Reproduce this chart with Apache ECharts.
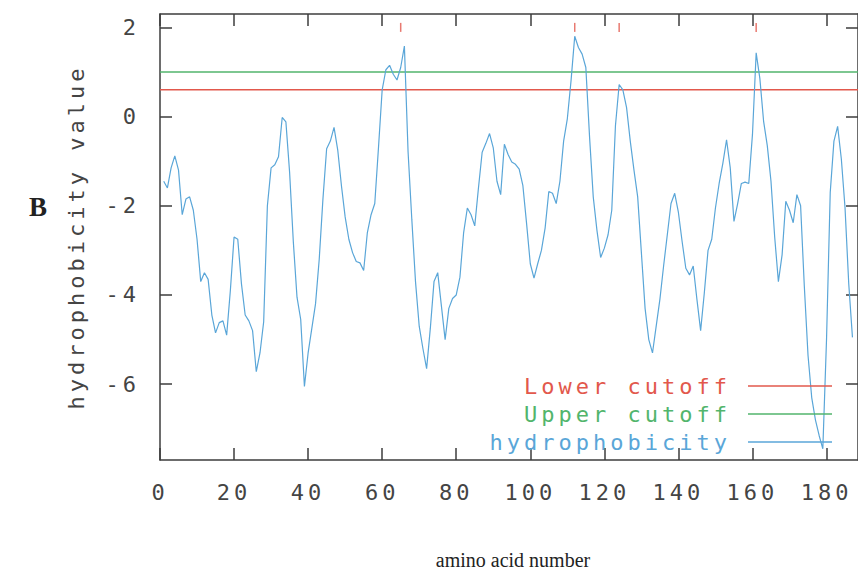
<!DOCTYPE html>
<html><head><meta charset="utf-8">
<script src="https://cdn.jsdelivr.net/npm/echarts@6/dist/echarts.min.js"></script>
<style>
html,body{margin:0;padding:0;background:#fff}
#c{width:858px;height:575px}
#c svg text[style*="Mono"], #c svg text[font-family*="Mono"]{letter-spacing:4px}
</style></head><body><div id="c"></div>
<script>
// ---- data ----
const startResidue = 1;
const hydro = [
 -1.45,-1.60,-1.15,-0.88,-1.20,-2.20,-1.85,-1.80,-2.10,-2.75,
 -3.70,-3.50,-3.65,-4.45,-4.85,-4.62,-4.58,-4.90,-3.90,-2.70,
 -2.75,-3.75,-4.45,-4.58,-4.80,-5.72,-5.30,-4.60,-2.00,-1.15,
 -1.08,-0.90,-0.02,-0.12,-1.25,-2.80,-4.05,-4.55,-6.05,-5.30,
 -4.75,-4.20,-3.20,-1.85,-0.72,-0.55,-0.24,-0.75,-1.55,-2.25,
 -2.75,-3.05,-3.25,-3.28,-3.45,-2.60,-2.20,-1.95,-0.70,0.60,
 1.05,1.15,0.95,0.82,1.10,1.58,-0.80,-2.30,-3.70,-4.70,
 -5.20,-5.65,-4.75,-3.70,-3.50,-4.25,-5.00,-4.30,-4.08,-4.00,
 -3.60,-2.60,-2.05,-2.20,-2.45,-1.60,-0.80,-0.60,-0.38,-0.70,
 -1.45,-1.75,-0.62,-0.85,-1.02,-1.07,-1.18,-1.55,-2.40,-3.30,
 -3.62,-3.30,-3.00,-2.50,-1.68,-1.72,-1.95,-1.45,-0.55,-0.05,
 0.80,1.80,1.55,1.40,1.10,-0.45,-1.80,-2.55,-3.16,-2.95,
 -2.65,-2.10,-0.20,0.72,0.60,0.20,-0.55,-1.20,-1.80,-3.05,
 -4.30,-5.00,-5.30,-4.70,-4.10,-3.35,-2.65,-1.95,-1.72,-2.15,
 -2.80,-3.40,-3.55,-3.35,-4.10,-4.80,-3.95,-3.00,-2.75,-2.05,
 -1.50,-1.05,-0.52,-1.15,-2.35,-1.95,-1.50,-1.47,-1.50,-0.40,
 1.43,0.85,-0.10,-0.65,-1.45,-2.70,-3.70,-3.10,-1.90,-2.10,
 -2.38,-1.75,-2.00,-3.80,-5.35,-6.30,-6.80,-7.15,-7.45,-5.00,
 -1.70,-0.55,-0.22,-0.95,-2.05,-3.75,-4.95
];
const lowerCutoff = 0.6;
const upperCutoff = 1.0;
const markedResidues = [65, 112, 124, 161];
const xTicks = [0,20,40,60,80,100,120,140,160,180];
const yTicks = [-6,-4,-2,0,2];
const xMin = 0, xMax = 188.5;
const yMin = -7.7, yMax = 2.3;

// ---- styles ----
const MONO = "'DejaVu Sans Mono', monospace";
const SERIF = "'Liberation Serif', 'DejaVu Serif', serif";
const C_RED = '#e2584c', C_GREEN = '#52b56c', C_BLUE = '#5aa6d8';
const AXIS = '#3c3c3c', TXT = '#444444';

const chart = echarts.init(document.getElementById('c'), null, {renderer: 'svg'});

function frameAxis(extra) {
  return Object.assign({
    axisLine: {show: true, onZero: false, lineStyle: {color: AXIS, width: 1.5}},
    axisTick: {show: true, inside: true, length: 12, lineStyle: {color: AXIS, width: 1.5}},
    splitLine: {show: false},
    axisLabel: {show: false}
  }, extra);
}

const option = {
  animation: false,
  backgroundColor: '#fff',
  grid: {left: 160, top: 14, right: -4, bottom: 107, containLabel: false},
  xAxis: [
    frameAxis({
      type: 'value', min: xMin, max: xMax, position: 'bottom',
      axisTick: {show: true, inside: true, length: 12, customValues: xTicks, lineStyle: {color: AXIS, width: 1.5}},
      axisLabel: {
        show: true, customValues: xTicks, margin: 21,
        fontFamily: MONO, fontSize: 22,
        color: function (v) { return (v === 0) ? '#b0b0b0' : (v === 60 ? '#9a9a9a' : TXT); }
      },
      name: 'amino acid number', nameLocation: 'middle', nameGap: 90,
      nameTextStyle: {fontFamily: SERIF, fontSize: 20, color: '#222', padding: [0, 0, 0, 8]}
    }),
    frameAxis({
      type: 'value', min: xMin, max: xMax, position: 'top',
      axisTick: {show: true, inside: true, length: 12, customValues: xTicks, lineStyle: {color: AXIS, width: 1.5}}
    })
  ],
  yAxis: [
    frameAxis({
      type: 'value', min: yMin, max: yMax, position: 'left',
      axisTick: {show: true, inside: true, length: 12, customValues: yTicks, lineStyle: {color: AXIS, width: 1.5}},
      axisLabel: {
        show: true, customValues: yTicks, margin: 20,
        fontFamily: MONO, fontSize: 22,
        color: function (v) { return (v === 2) ? '#a0a0a0' : TXT; }
      },
      name: 'hydrophobicity value', nameLocation: 'middle', nameGap: 73,
      nameTextStyle: {fontFamily: MONO, fontSize: 22, color: TXT}
    }),
    frameAxis({
      type: 'value', min: yMin, max: yMax, position: 'right',
      axisTick: {show: true, inside: true, length: 12, customValues: yTicks, lineStyle: {color: AXIS, width: 1.5}}
    })
  ],
  legend: {
    orient: 'vertical', right: 26, top: 375, padding: 0,
    align: 'right', icon: 'rect', itemWidth: 84, itemHeight: 1.5, itemGap: 6,
    textStyle: {fontFamily: MONO, fontSize: 22, lineHeight: 22, padding: [0, 12, 0, 0]},
    data: [
      {name: 'Lower cutoff', textStyle: {color: C_RED}},
      {name: 'Upper cutoff', textStyle: {color: C_GREEN}},
      {name: 'hydrophobicity', textStyle: {color: C_BLUE}}
    ]
  },
  graphic: [
    {type: 'text', left: 29, top: 193, style: {text: 'B', font: "bold 27px 'Liberation Serif', serif", fill: '#222'}}
  ],
  series: [
    {
      name: 'Lower cutoff', type: 'line', showSymbol: false, silent: true,
      data: [[xMin, lowerCutoff], [xMax, lowerCutoff]],
      lineStyle: {color: C_RED, width: 1.5}, itemStyle: {color: C_RED}
    },
    {
      name: 'Upper cutoff', type: 'line', showSymbol: false, silent: true,
      data: [[xMin, upperCutoff], [xMax, upperCutoff]],
      lineStyle: {color: C_GREEN, width: 1.5}, itemStyle: {color: C_GREEN}
    },
    {
      name: 'hydrophobicity', type: 'line', showSymbol: false, silent: true,
      data: hydro.map((v, i) => [startResidue + i, v]),
      lineStyle: {color: C_BLUE, width: 1.2}, itemStyle: {color: C_BLUE}
    },
    {
      name: 'marks', type: 'scatter', silent: true,
      symbol: 'rect', symbolSize: [1.5, 9],
      data: markedResidues.map(r => [r, 2]),
      itemStyle: {color: C_RED}
    }
  ]
};
chart.setOption(option);
</script></body></html>
